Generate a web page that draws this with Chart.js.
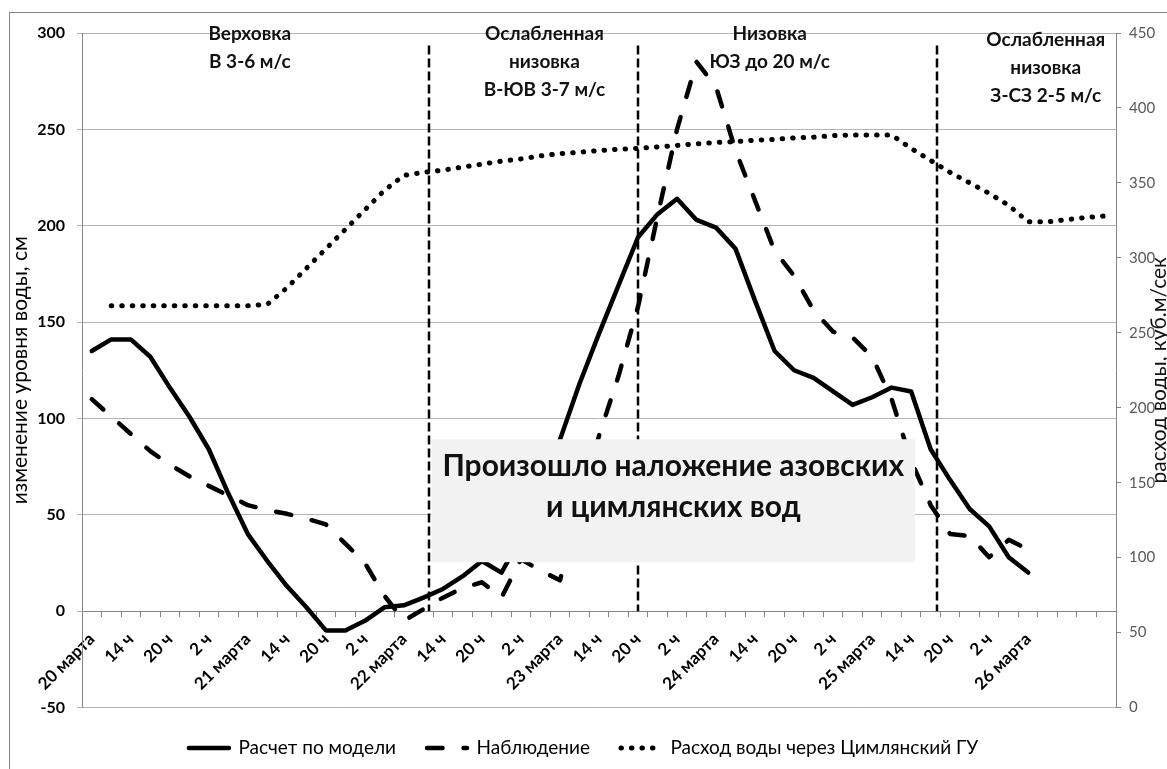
<!DOCTYPE html>
<html>
<head>
<meta charset="utf-8">
<script src="https://cdn.jsdelivr.net/npm/chart.js@4.4.1/dist/chart.umd.min.js"></script>
<style>
  html, body { margin: 0; padding: 0; background: #fff; }
  #wrap { position: relative; width: 1167px; height: 769px; }
</style>
</head>
<body>
<div id="wrap"><canvas id="chart" width="1167" height="769"></canvas></div>
<script>
// шаг 3 часа, подписи через одну
const timeLabels = [
  '20 марта', '', '14 ч', '', '20 ч', '', '2 ч', '',
  '21 марта', '', '14 ч', '', '20 ч', '', '2 ч', '',
  '22 марта', '', '14 ч', '', '20 ч', '', '2 ч', '',
  '23 марта', '', '14 ч', '', '20 ч', '', '2 ч', '',
  '24 марта', '', '14 ч', '', '20 ч', '', '2 ч', '',
  '25 марта', '', '14 ч', '', '20 ч', '', '2 ч', '',
  '26 марта', '', '', '', ''
];

// изменение уровня воды, см
const modelLevel = [
  135, 141, 141, 132, 116, 101, 84, 61,
  40, 26, 13, 2, -10, -10, -5, 2,
  3, 7, 11.5, 18, 26, 20, 38, 62,
  89, 118, 144, 169, 194, 206, 214, 203,
  199, 188, 161, 135, 125, 121, 114, 107,
  111, 116, 114, 84, 68, 53, 44, 28,
  20
];
const observedLevel = [
  110, 101, 92, 83, 76, 70, 65, 60,
  55, 52.5, 50.5, 48, 45, 35, 25, 8,
  -5, 1, 7, 12, 15, 7, 27, 21,
  16, 53, 91, 122, 158, 205, 250, 285,
  272, 239, 213, 187, 174, 156, 145, 142,
  132, 110, 78, 55, 40, 39, 28, 37,
  32
];
// расход воды, куб.м/сек
const dischargeCymlyansk = [
  null, 268, 268, 268, 268, 268, 268, 268,
  268, 269, 280, 293, 306, 319, 332, 345,
  355, 357, 358.5, 360.5, 362.5, 364.5, 366, 368,
  369.5, 370.5, 371.5, 372.5, 373, 374, 375, 376,
  377, 377.5, 378.5, 379, 380, 380.5, 381.5, 382,
  382, 382, 373, 365, 357, 350, 343, 335,
  324, 324, 325.5, 327, 328
];

// границы периодов ветра (индекс категории)
const windBreaks = [17.3, 28, 43.35];
const windNotes = [
  { at: 8.1, lines: ['Верховка', 'В 3-6 м/с'] },
  { at: 23.2, lines: ['Ослабленная', 'низовка', 'В-ЮВ 3-7 м/с'] },
  { at: 34.75, lines: ['Низовка', 'ЮЗ до 20 м/с'] },
  { at: 48.9, lines: ['Ослабленная', 'низовка', 'З-СЗ 2-5 м/с'], shift: 6 }
];
const noteLines = ['Произошло наложение азовских', 'и цимлянских вод'];

const FONT = 'Lato';

const framePlugin = {
  id: 'frame',
  beforeDraw(chart) {
    const { ctx } = chart;
    ctx.save();
    ctx.fillStyle = '#fff';
    ctx.fillRect(0, 0, chart.width, chart.height);
    ctx.strokeStyle = '#868686';
    ctx.lineWidth = 1;
    ctx.strokeRect(9.5, 12.5, 1200, 800);
    ctx.restore();
  }
};

const overlayPlugin = {
  id: 'overlay',
  afterDatasetsDraw(chart) {
    const { ctx, chartArea, scales: { x, y } } = chart;
    ctx.save();

    // вертикальные пунктиры
    ctx.strokeStyle = '#000';
    ctx.lineWidth = 2.5;
    ctx.setLineDash([9, 4]);
    windBreaks.forEach(b => {
      const px = Math.round(x.getPixelForValue(b));
      ctx.beginPath();
      ctx.moveTo(px, y.getPixelForValue(293.5));
      ctx.lineTo(px, y.getPixelForValue(0));
      ctx.stroke();
    });
    ctx.setLineDash([]);

    // плашка с надписью
    const bx0 = x.getPixelForValue(17.42), bx1 = x.getPixelForValue(42.2);
    const by0 = y.getPixelForValue(89.2), by1 = y.getPixelForValue(25.4);
    ctx.fillStyle = '#f2f2f2';
    ctx.fillRect(bx0, by0, bx1 - bx0, by1 - by0);
    ctx.fillStyle = '#111';
    ctx.font = 'bold 30px ' + FONT;
    ctx.textAlign = 'center';
    ctx.textBaseline = 'middle';
    const cx = (bx0 + bx1) / 2;
    ctx.fillText(noteLines[0], cx, y.getPixelForValue(75.2));
    ctx.fillText(noteLines[1], cx, y.getPixelForValue(53.9));

    // подписи периодов
    ctx.font = 'bold 19px ' + FONT;
    windNotes.forEach(n => {
      const px = x.getPixelForValue(n.at);
      n.lines.forEach((t, i) => {
        ctx.fillText(t, px, chartArea.top + 1 + (n.shift || 0) + i * 28);
      });
    });

    // подпись правой оси
    ctx.font = '21px ' + FONT;
    ctx.translate(1159, (chartArea.top + chartArea.bottom) / 2);
    ctx.rotate(-Math.PI / 2);
    ctx.fillText('расход воды, куб.м/сек', 0, 0);
    ctx.restore();
  }
};

new Chart(document.getElementById('chart'), {
  type: 'line',
  data: {
    labels: timeLabels,
    datasets: [
      {
        label: 'Расчет по модели',
        data: modelLevel,
        yAxisID: 'y',
        borderColor: '#000',
        borderWidth: 4.5,
        borderCapStyle: 'round',
        borderJoinStyle: 'round',
        pointRadius: 0
      },
      {
        label: 'Наблюдение',
        data: observedLevel,
        yAxisID: 'y',
        borderColor: '#000',
        borderWidth: 4.5,
        borderDash: [15.5, 21],
        borderCapStyle: 'round',
        borderJoinStyle: 'round',
        pointRadius: 0
      },
      {
        label: 'Расход воды через Цимлянский ГУ',
        data: dischargeCymlyansk,
        yAxisID: 'y1',
        borderColor: '#000',
        borderWidth: 5,
        borderDash: [0.5, 10],
        borderCapStyle: 'round',
        pointRadius: 0
      }
    ]
  },
  options: {
    responsive: false,
    animation: false,
    layout: { padding: { top: 33, right: 0, bottom: 1.5, left: 0 } },
    plugins: {
      legend: {
        position: 'bottom',
        labels: {
          usePointStyle: true,
          pointStyle: 'line',
          pointStyleWidth: 40,
          padding: 31,
          color: '#000',
          font: { family: FONT, size: 19 },
          // образец линии берём из набора, а не из точки
          generateLabels(chart) {
            const items = Chart.defaults.plugins.legend.labels.generateLabels(chart);
            items.forEach(it => {
              const ds = chart.data.datasets[it.datasetIndex];
              it.lineDash = ds.borderDash || [];
              it.lineWidth = ds.borderWidth;
              it.lineCap = ds.borderCapStyle;
              it.strokeStyle = ds.borderColor;
              it.pointStyle = 'line';
            });
            return items;
          }
        }
      },
      tooltip: { enabled: false }
    },
    scales: {
      x: {
        position: { y: 0 },
        offset: true,
        grid: { offset: true, drawOnChartArea: false, tickLength: 5, color: '#868686' },
        border: { color: '#868686' },
        ticks: {
          autoSkip: false,
          maxRotation: 45,
          minRotation: 45,
          padding: 13,
          color: '#000',
          font: { family: FONT, size: 17, weight: 'bold' }
        }
      },
      y: {
        position: 'left',
        min: -50,
        max: 300,
        afterFit: s => { s.width = 82; },
        ticks: { stepSize: 50, padding: 12, color: '#000', font: { family: FONT, size: 16, weight: 'bold' } },
        grid: { color: '#b3b3b3', tickLength: 5 },
        border: { color: '#868686' },
        title: {
          display: true,
          text: 'изменение уровня воды, см',
          color: '#000',
          font: { family: FONT, size: 21 },
          padding: { top: 8, bottom: 0 }
        }
      },
      y1: {
        position: 'right',
        min: 0,
        max: 450,
        afterFit: s => { s.width = 51; },
        ticks: { stepSize: 50, padding: 8, color: '#595959', font: { family: FONT, size: 15 } },
        grid: { drawOnChartArea: false, tickLength: 5, color: '#868686' },
        border: { color: '#868686' }
      }
    }
  },
  plugins: [framePlugin, overlayPlugin]
});
</script>
</body>
</html>
